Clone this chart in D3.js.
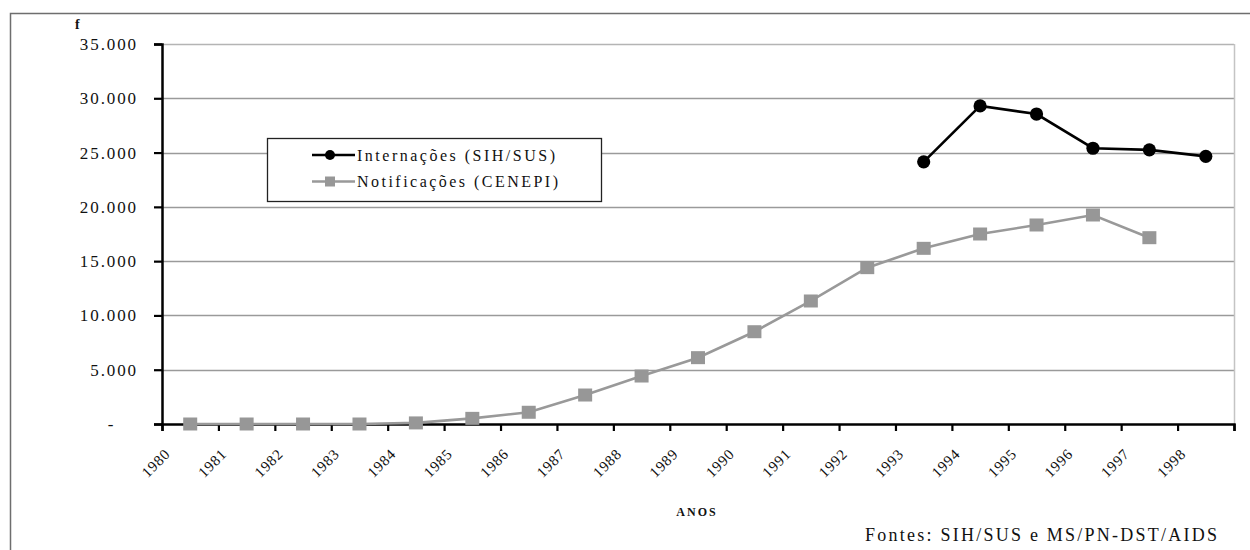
<!DOCTYPE html>
<html>
<head>
<meta charset="utf-8">
<script src="https://cdn.jsdelivr.net/npm/d3@7"></script>
<style>
  html, body { margin: 0; padding: 0; background: #fff; }
  svg { display: block; }
  svg text { font-family: "Liberation Serif", "Times New Roman", serif; }
</style>
</head>
<body>
<svg id="chart" width="1250" height="550"></svg>
<script>
// Anos de referência (categorias do eixo X)
const years = ["1980","1981","1982","1983","1984","1985","1986","1987","1988","1989",
               "1990","1991","1992","1993","1994","1995","1996","1997","1998"];

// Internações hospitalares por AIDS (SIH/SUS) — disponíveis a partir de 1993
const internacoes = [null,null,null,null,null,null,null,null,null,null,
                     null,null,null,24150,29300,28550,25400,25250,24650];

// Casos notificados de AIDS (CENEPI)
const notificacoes = [0,0,0,0,100,520,1080,2670,4420,6110,
                      8500,11330,14400,16180,17500,18330,19250,17160,null];

// Marcas do eixo Y
const yTicks = [0,5000,10000,15000,20000,25000,30000,35000];

const seriesNames = ["Internações (SIH/SUS)", "Notificações (CENEPI)"];

const svg = d3.select("#chart");
const FONT = "Liberation Serif";

const plot = { left: 162, right: 1234, top: 44, bottom: 424 };

const ptBR = d3.formatLocale({ decimal: ",", thousands: ".", grouping: [3], currency: ["R$", ""] });
const fmt = ptBR.format(",");

const x = d3.scaleBand().domain(years).range([plot.left, plot.right]).padding(0);
const xEdge = d3.scaleLinear().domain([0, years.length]).range([plot.left, plot.right]);
const y = d3.scaleLinear().domain([0, 35000]).range([plot.bottom, plot.top]);

// Moldura externa
svg.append("rect")
  .attr("x", 10.5).attr("y", 13.5)
  .attr("width", 1300).attr("height", 600)
  .attr("fill", "none").attr("stroke", "#6e6e6e").attr("stroke-width", 1.5);

// Linhas de grade horizontais
svg.append("g")
  .selectAll("line")
  .data(yTicks.filter(v => v > 0))
  .join("line")
  .attr("x1", plot.left).attr("x2", plot.right)
  .attr("y1", d => Math.round(y(d)) + 0.5).attr("y2", d => Math.round(y(d)) + 0.5)
  .attr("stroke", d => d === 35000 ? "#b4b4b4" : "#9a9a9a")
  .attr("stroke-width", 1.3);

// Borda direita da área de plotagem
svg.append("line")
  .attr("x1", plot.right + 0.5).attr("x2", plot.right + 0.5)
  .attr("y1", plot.top).attr("y2", plot.bottom)
  .attr("stroke", "#c4c4c4").attr("stroke-width", 1.5);

// Eixo Y
const yAxis = svg.append("g")
  .attr("transform", `translate(${plot.left},0)`)
  .call(d3.axisLeft(y).tickValues(yTicks).tickSize(8).tickPadding(0).tickFormat(() => ""));
yAxis.select(".domain").attr("stroke", "#000").attr("stroke-width", 2.5);
yAxis.selectAll(".tick line").attr("stroke", "#000").attr("stroke-width", 2.2);

svg.append("g")
  .selectAll("text")
  .data(yTicks)
  .join("text")
  .attr("x", d => d === 0 ? 110.5 : 138)
  .attr("y", d => y(d))
  .attr("dy", "0.35em")
  .attr("text-anchor", d => d === 0 ? "middle" : "end")
  .attr("font-family", FONT)
  .attr("font-size", 17)
  .attr("letter-spacing", d => d === 0 ? 0 : 1.9)
  .attr("fill", "#111")
  .text(d => d === 0 ? "-" : fmt(d));

// Eixo X (marcas nas divisões entre categorias)
const xAxis = svg.append("g")
  .attr("transform", `translate(0,${plot.bottom})`)
  .call(d3.axisBottom(xEdge).tickValues(d3.range(years.length + 1)).tickSize(7).tickFormat(() => ""));
xAxis.select(".domain").attr("stroke", "#000").attr("stroke-width", 2.5);
xAxis.selectAll(".tick line").attr("stroke", "#000").attr("stroke-width", 2.2);

// Rótulos dos anos, inclinados
svg.append("g")
  .selectAll("text")
  .data(years)
  .join("text")
  .attr("transform", d => `translate(${x(d) + x.bandwidth() / 2 - 19},${plot.bottom + 31}) rotate(-45)`)
  .attr("text-anchor", "end")
  .attr("font-family", FONT)
  .attr("font-size", 15)
  .attr("letter-spacing", 0.8)
  .attr("fill", "#111")
  .text(d => d);

// Título do eixo X
svg.append("text")
  .attr("x", 697).attr("y", 516)
  .attr("text-anchor", "middle")
  .attr("font-family", FONT)
  .attr("font-size", 12).attr("font-weight", "bold")
  .attr("letter-spacing", 2)
  .attr("fill", "#111")
  .text("ANOS");

// Rótulo do eixo Y
svg.append("text")
  .attr("x", 75).attr("y", 29)
  .attr("font-family", FONT)
  .attr("font-size", 14).attr("font-weight", "bold")
  .attr("fill", "#111")
  .text("f");

// Fonte dos dados
svg.append("text")
  .attr("x", 865).attr("y", 541)
  .attr("font-family", FONT)
  .attr("font-size", 18)
  .attr("textLength", 352).attr("lengthAdjust", "spacing")
  .attr("fill", "#111")
  .text("Fontes: SIH/SUS e MS/PN-DST/AIDS");

const cx = (d, i) => x(years[i]) + x.bandwidth() / 2;
const line = d3.line().defined(d => d != null).x(cx).y(d => y(d));

// Série: Notificações (cinza, quadrados)
svg.append("path")
  .datum(notificacoes)
  .attr("d", line)
  .attr("fill", "none").attr("stroke", "#999").attr("stroke-width", 2.6);
svg.append("g")
  .selectAll("rect")
  .data(notificacoes.map((v, i) => ({ v, i })).filter(d => d.v != null))
  .join("rect")
  .attr("x", d => cx(d.v, d.i) - 7).attr("y", d => y(d.v) - 6.5)
  .attr("width", 14).attr("height", 13)
  .attr("fill", "#979797");

// Série: Internações (preto, círculos)
svg.append("path")
  .datum(internacoes)
  .attr("d", line)
  .attr("fill", "none").attr("stroke", "#000").attr("stroke-width", 2.6);
svg.append("g")
  .selectAll("circle")
  .data(internacoes.map((v, i) => ({ v, i })).filter(d => d.v != null))
  .join("circle")
  .attr("cx", d => cx(d.v, d.i)).attr("cy", d => y(d.v))
  .attr("r", 6.6)
  .attr("fill", "#000");

// Legenda
const legend = svg.append("g");
legend.append("rect")
  .attr("x", 267.5).attr("y", 138.5).attr("width", 334).attr("height", 63)
  .attr("fill", "#fff").attr("stroke", "#222").attr("stroke-width", 1.3);

const legendRows = [
  { name: seriesNames[0], color: "#000", shape: "circle", y: 155, base: 160.5, len: 198 },
  { name: seriesNames[1], color: "#999", shape: "square", y: 181.5, base: 187, len: 201 }
];
legendRows.forEach(r => {
  legend.append("line")
    .attr("x1", 312).attr("x2", 355).attr("y1", r.y).attr("y2", r.y)
    .attr("stroke", r.color).attr("stroke-width", 2.6);
  if (r.shape === "circle") {
    legend.append("circle").attr("cx", 330).attr("cy", r.y).attr("r", 5).attr("fill", r.color);
  } else {
    legend.append("rect").attr("x", 325).attr("y", r.y - 5).attr("width", 10).attr("height", 10).attr("fill", "#979797");
  }
  legend.append("text")
    .attr("x", 357).attr("y", r.base)
    .attr("font-family", FONT)
    .attr("font-size", 16)
    .attr("textLength", r.len).attr("lengthAdjust", "spacing")
    .attr("fill", "#111")
    .text(r.name);
});
</script>
</body>
</html>
